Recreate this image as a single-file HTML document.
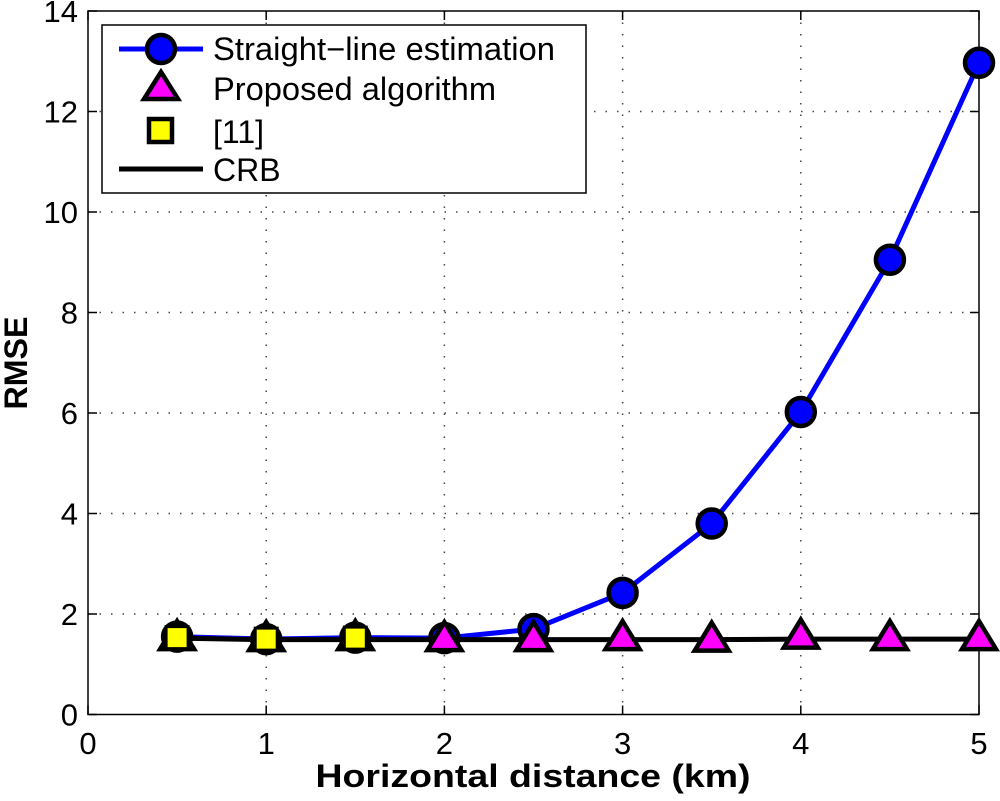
<!DOCTYPE html>
<html><head><meta charset="utf-8"><style>
body{margin:0;background:#fff}
svg text{font-family:"Liberation Sans",Arial,sans-serif}
</style></head><body>
<svg id="chart" width="1000" height="796" xmlns="http://www.w3.org/2000/svg">
<g id="grid"></g>
<g id="axes"></g>
<g id="series"></g>
<text x="0" y="0" transform="translate(27,363) rotate(-90)" text-anchor="middle" font-size="32" font-weight="bold" textLength="93" lengthAdjust="spacingAndGlyphs">RMSE</text>
<text x="533" y="787" text-anchor="middle" font-size="32" font-weight="bold" textLength="435" lengthAdjust="spacingAndGlyphs">Horizontal distance (km)</text>
<g>
<rect x="102" y="25" width="484" height="168" fill="#fff" stroke="#000" stroke-width="1.5"/>
<g>
<line x1="119" y1="49" x2="203" y2="49" stroke="#0000ff" stroke-width="5"/>
<circle cx="161" cy="49" r="14" fill="#0000ff" stroke="#000" stroke-width="4.5"/>
<text x="213" y="60" font-size="32" textLength="342" lengthAdjust="spacingAndGlyphs">Straight−line estimation</text></g>
<g>
<polygon points="161,72 178,99 144,99" fill="#ff00ff" stroke="#000" stroke-width="4.5"/>
<text x="213" y="100" font-size="32" textLength="283" lengthAdjust="spacingAndGlyphs">Proposed algorithm</text></g>
<g>
<rect x="149" y="119" width="23" height="23" fill="#ffff00" stroke="#000" stroke-width="4.5"/>
<text x="213" y="143" font-size="32">[11]</text></g>
<g>
<line x1="119" y1="169" x2="203" y2="169" stroke="#000" stroke-width="5"/>
<text x="213" y="181" font-size="32">CRB</text></g>
</g>
</svg>
<script>
const xVals=[0.5,1,1.5,2,2.5,3,3.5,4,4.5,5];
const straightLine=[1.55,1.5,1.53,1.52,1.7,2.42,3.8,6.02,9.05,12.97];
const proposed=[1.52,1.5,1.52,1.5,1.5,1.52,1.49,1.55,1.52,1.52];
const crb=[1.52,1.49,1.49,1.49,1.49,1.49,1.49,1.5,1.5,1.5];
const ref11X=[0.5,1,1.5];
const ref11=[1.53,1.5,1.52];
const xTicks=[0,1,2,3,4,5];
const yTicks=[0,2,4,6,8,10,12,14];
const X0=88,X1=979,Y0=714.5,Y1=11;
const sx=v=>X0+(v-0)/5*(X1-X0);
const sy=v=>Y0-(v-0)/14*(Y0-Y1);
const NS="http://www.w3.org/2000/svg";
function mk(tag,attrs,parent){const e=document.createElementNS(NS,tag);for(const k in attrs)e.setAttribute(k,attrs[k]);parent.appendChild(e);return e;}
const grid=document.getElementById('grid'),axes=document.getElementById('axes'),ser=document.getElementById('series');
xTicks.forEach(t=>{
  if(t>0&&t<5){const l=mk('line',{x1:sx(t),x2:sx(t),y1:Y1,y2:Y0,stroke:'#444','stroke-width':1.5,'stroke-dasharray':'1.5 10'},grid);
  
  }
  mk('line',{x1:sx(t),x2:sx(t),y1:Y0,y2:Y0-9,stroke:'#000','stroke-width':1.5},axes);
  mk('line',{x1:sx(t),x2:sx(t),y1:Y1,y2:Y1+9,stroke:'#000','stroke-width':1.5},axes);
  const tx=mk('text',{x:sx(t),y:754,'text-anchor':'middle','font-size':31},axes);tx.textContent=t;
  
  
});
yTicks.forEach(t=>{
  if(t>0&&t<14){const l=mk('line',{x1:X0,x2:X1,y1:sy(t),y2:sy(t),stroke:'#444','stroke-width':1.5,'stroke-dasharray':'1.5 10'},grid);
  
  }
  mk('line',{x1:X0,x2:X0+9,y1:sy(t),y2:sy(t),stroke:'#000','stroke-width':1.5},axes);
  mk('line',{x1:X1,x2:X1-9,y1:sy(t),y2:sy(t),stroke:'#000','stroke-width':1.5},axes);
  const tx=mk('text',{x:78,y:sy(t)+11,'text-anchor':'end','font-size':31},axes);tx.textContent=t;
  
  
});
const box=mk('rect',{x:X0,y:Y1,width:X1-X0,height:Y0-Y1,fill:'none',stroke:'#000','stroke-width':1.5},axes);


const pts=a=>a.map((v,i)=>sx(xVals[i])+','+sy(v)).join(' ');
const bl=mk('polyline',{points:pts(straightLine),fill:'none',stroke:'#0000ff','stroke-width':5},ser);


const cl=mk('polyline',{points:pts(crb),fill:'none',stroke:'#000','stroke-width':5},ser);


const hasSq=i=>ref11X.indexOf(xVals[i])>=0;
straightLine.forEach((v,i)=>{
  const c=mk('circle',{cx:sx(xVals[i]),cy:sy(v),r:14,fill:hasSq(i)?'#000':'#0000ff',stroke:'#000','stroke-width':4.5},ser);
  
  
});
proposed.forEach((v,i)=>{
  const x=sx(xVals[i]),y=sy(v);
  const p=mk('polygon',{points:`${x},${y-17} ${x+17},${y+11} ${x-17},${y+11}`,fill:hasSq(i)?'#000':'#ff00ff',stroke:'#000','stroke-width':4.5},ser);
  
  
});
ref11.forEach((v,i)=>{
  const x=sx(ref11X[i]),y=sy(v);
  const r=mk('rect',{x:x-11,y:y-11,width:22,height:22,fill:'#ffff00',stroke:'#000','stroke-width':3},ser);
  
  
});
</script>
</body></html>
